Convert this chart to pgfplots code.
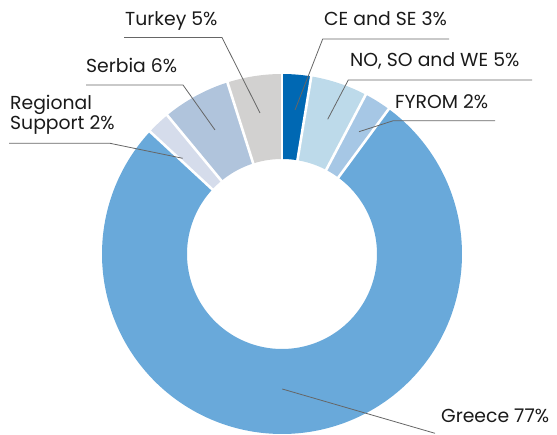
\documentclass[border=0pt]{standalone}
\usepackage{pgfplots}
\pgfplotsset{compat=1.18}
\usepackage{fontspec}
\setmainfont{Poppins}
\definecolor{cCE}{HTML}{0068B3}
\definecolor{cNO}{HTML}{BDDAEA}
\definecolor{cFY}{HTML}{A6C7E5}
\definecolor{cGR}{HTML}{69A9DA}
\definecolor{cRS}{HTML}{D5DCEB}
\definecolor{cSE}{HTML}{B0C4DC}
\definecolor{cTU}{HTML}{D2D1D0}
\definecolor{ldr}{HTML}{666666}
\definecolor{txt}{HTML}{1A1A1A}
% shares in percent, clockwise from the top
\def\vCE{2.6}\def\vNO{5.1}\def\vFY{2.4}\def\vGR{76.8}\def\vRS{2.1}\def\vSE{6.1}\def\vTU{4.9}
\pgfmathsetmacro\aA{90}
\pgfmathsetmacro\aB{\aA-3.6*\vCE}
\pgfmathsetmacro\aC{\aB-3.6*\vNO}
\pgfmathsetmacro\aD{\aC-3.6*\vFY}
\pgfmathsetmacro\aE{\aD-3.6*\vGR}
\pgfmathsetmacro\aF{\aE-3.6*\vRS}
\pgfmathsetmacro\aG{\aF-3.6*\vSE}
\pgfmathsetmacro\aH{\aG-3.6*\vTU}
\def\cx{282}\def\cy{180}\def\rm{137.5}
\begin{document}
\begin{tikzpicture}[lbl/.style={txt,anchor=base west,inner sep=0pt,font=\fontsize{18.8}{21}\selectfont}]
\begin{axis}[x=1pt,y=1pt,xmin=0,xmax=557,ymin=0,ymax=434,hide axis,clip=false,
  scale only axis]
\path (axis cs:0,0) rectangle (axis cs:557,434);
\addplot[cCE,line width=85pt,domain=\aB:\aA,samples=20] ({\cx+\rm*cos(x)},{\cy+\rm*sin(x)});
\addplot[cNO,line width=85pt,domain=\aC:\aB,samples=20] ({\cx+\rm*cos(x)},{\cy+\rm*sin(x)});
\addplot[cFY,line width=85pt,domain=\aD:\aC,samples=20] ({\cx+\rm*cos(x)},{\cy+\rm*sin(x)});
\addplot[cGR,line width=85pt,domain=\aE:\aD,samples=200] ({\cx+\rm*cos(x)},{\cy+\rm*sin(x)});
\addplot[cRS,line width=85pt,domain=\aF:\aE,samples=20] ({\cx+\rm*cos(x)},{\cy+\rm*sin(x)});
\addplot[cSE,line width=85pt,domain=\aG:\aF,samples=20] ({\cx+\rm*cos(x)},{\cy+\rm*sin(x)});
\addplot[cTU,line width=85pt,domain=\aH:\aG,samples=20] ({\cx+\rm*cos(x)},{\cy+\rm*sin(x)});
\foreach \a in {\aA,\aB,\aC,\aD,\aE,\aF,\aG}{
  \edef\tmp{\noexpand\addplot[white,line width=2.6pt,domain=92:183,samples=2] ({\cx+x*cos(\a)},{\cy+x*sin(\a)});}\tmp
}
% leader lines
\draw[ldr,line width=0.8pt] (axis cs:124,{434-37.5}) -- (axis cs:222,{434-37.5}) -- (axis cs:260,{434-113});
\draw[ldr,line width=0.8pt] (axis cs:86,{434-85}) -- (axis cs:183,{434-85}) -- (axis cs:215,{434-130});
\draw[ldr,line width=0.8pt] (axis cs:9,{434-143.3}) -- (axis cs:110,{434-143.3}) -- (axis cs:182.7,{434-158.3});
\draw[ldr,line width=0.8pt] (axis cs:295,{434-110}) -- (axis cs:322.7,{434-39}) -- (axis cs:449,{434-39});
\draw[ldr,line width=0.8pt] (axis cs:327.7,{434-119.3}) -- (axis cs:348.3,{434-80}) -- (axis cs:532,{434-80});
\draw[ldr,line width=0.8pt] (axis cs:359,{434-131.7}) -- (axis cs:393.3,{434-120.7}) -- (axis cs:495,{434-120.7});
\draw[ldr,line width=0.8pt] (axis cs:282.3,{434-389}) -- (axis cs:435,{434-433.3});
% labels
\node[lbl] at (axis cs:125,{434-26}) {Turkey 5\%};
\node[lbl] at (axis cs:86,{434-72.7}) {Serbia 6\%};
\node[lbl] at (axis cs:10,{434-110}) {Regional};
\node[lbl] at (axis cs:10,{434-130}) {Support 2\%};
\node[lbl] at (axis cs:324,{434-26}) {CE and SE 3\%};
\node[lbl] at (axis cs:350,{434-66.7}) {NO, SO and WE 5\%};
\node[lbl] at (axis cs:395,{434-108.3}) {FYROM 2\%};
\node[lbl] at (axis cs:441,{434-422.7}) {Greece 77\%};
\end{axis}
\end{tikzpicture}
\end{document}
